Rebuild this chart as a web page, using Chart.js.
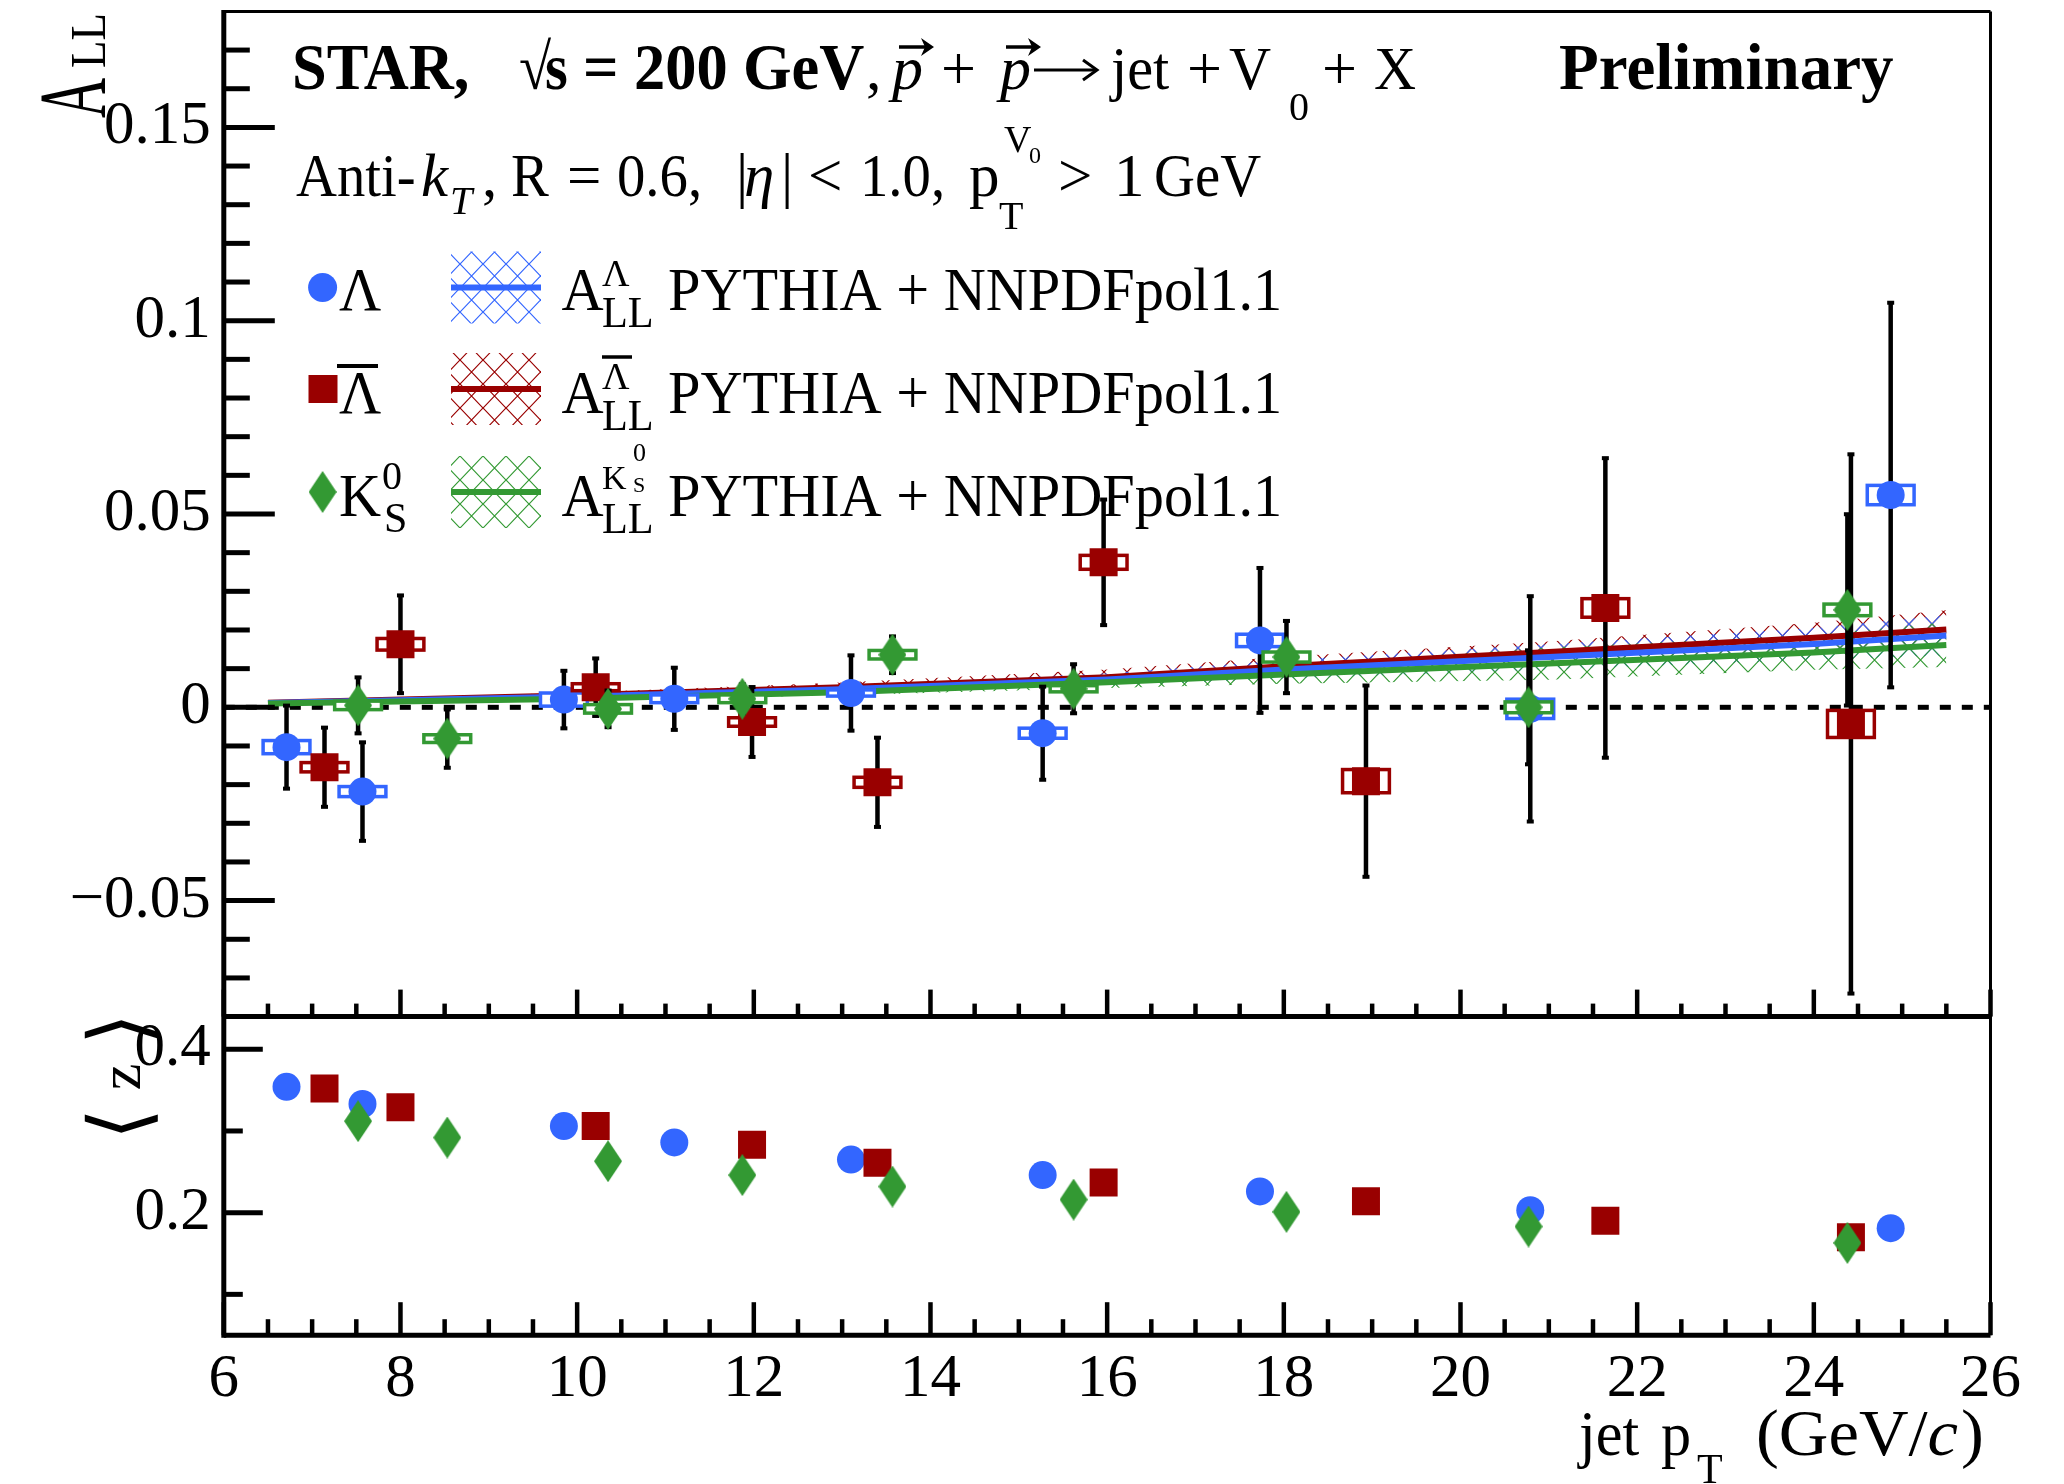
<!DOCTYPE html>
<html>
<head>
<meta charset="utf-8">
<script src="https://cdn.jsdelivr.net/npm/chart.js@4.4.1/dist/chart.umd.min.js"></script>
<style>
  html, body { margin: 0; padding: 0; background: #fff; }
  canvas { display: block; }
</style>
</head>
<body>
<canvas id="allChart" width="2064" height="1484" style="width:2064px;height:1484px"></canvas>
<script>
// --- measured points (jet pT in GeV/c) ---
const ptLambda = [6.71, 7.57, 9.85, 11.10, 13.10, 15.27, 17.73, 20.79, 24.87];
const allLambda = [-0.0103, -0.0218, 0.0020, 0.0022, 0.0037, -0.0067, 0.0173, -0.0004, 0.0549];
const statLambda = [0.0110, 0.0130, 0.0077, 0.0083, 0.0100, 0.0123, 0.0190, 0.0294, 0.0500];
const sysLambda = [0.0017, 0.0013, 0.0017, 0.0010, 0.0008, 0.0013, 0.0016, 0.0025, 0.0025];
const zLambda = [0.354, 0.333, 0.306, 0.286, 0.265, 0.246, 0.226, 0.203, 0.181];

const ptLambdaBar = [7.14, 8.00, 10.21, 11.98, 13.40, 15.96, 18.93, 21.64, 24.42];
const allLambdaBar = [-0.0155, 0.0163, 0.0052, -0.0038, -0.0194, 0.0375, -0.0191, 0.0257, -0.0043];
const statLambdaBar = [0.0105, 0.0129, 0.0077, 0.0093, 0.0118, 0.0165, 0.0250, 0.0390, 0.0700];
const sysLambdaBar = [0.0012, 0.0015, 0.0009, 0.0011, 0.0013, 0.0018, 0.0030, 0.0024, 0.0035];
const zLambdaBar = [0.352, 0.329, 0.306, 0.283, 0.261, 0.237, 0.214, 0.190, 0.170];

const ptK0s = [7.52, 8.53, 10.35, 11.87, 13.57, 15.62, 18.03, 20.77, 24.38];
const allK0s = [0.0005, -0.0081, -0.0004, 0.0022, 0.0136, 0.0048, 0.0130, 0.0000, 0.0252];
const statK0s = [0.0075, 0.0078, 0.0050, 0.0040, 0.0050, 0.0066, 0.0096, 0.0150, 0.0250];
const sysK0s = [0.0011, 0.0010, 0.0011, 0.0010, 0.0011, 0.0008, 0.0013, 0.0014, 0.0015];
const zK0s = [0.312, 0.292, 0.263, 0.246, 0.232, 0.216, 0.201, 0.183, 0.163];

const sysHalfWidth = 0.265;

// --- PYTHIA + NNPDFpol1.1 expectations ---
const theoryPt = [6.5, 10, 13, 16, 18, 21, 24, 25.5];
const thLambda = [0.0011, 0.0028, 0.0047, 0.0072, 0.0098, 0.0130, 0.0164, 0.0186];
const thLambdaHi = [0.0013, 0.0034, 0.0057, 0.0088, 0.0122, 0.0163, 0.0205, 0.0238];
const thLambdaLo = [0.0009, 0.0022, 0.0037, 0.0056, 0.0074, 0.0097, 0.0123, 0.0134];
const thLambdaBar = [0.0012, 0.0031, 0.0052, 0.0078, 0.0106, 0.0143, 0.0180, 0.0201];
const thLambdaBarHi = [0.0014, 0.0038, 0.0064, 0.0098, 0.0131, 0.0170, 0.0219, 0.0251];
const thLambdaBarLo = [0.0010, 0.0024, 0.0040, 0.0058, 0.0081, 0.0116, 0.0141, 0.0151];
const thK0s = [0.0010, 0.0022, 0.0039, 0.0065, 0.0085, 0.0113, 0.0142, 0.0161];
const thK0sHi = [0.0011, 0.0026, 0.0047, 0.0080, 0.0109, 0.0155, 0.0187, 0.0220];
const thK0sLo = [0.0009, 0.0018, 0.0031, 0.0050, 0.0061, 0.0071, 0.0097, 0.0104];

// --- axes ---
const xTicks = [6, 8, 10, 12, 14, 16, 18, 20, 22, 24, 26];
const allTicks = [-0.05, 0, 0.05, 0.1, 0.15];
const allTickLabels = ["\u22120.05", "0", "0.05", "0.1", "0.15"];
const zTicks = [0.2, 0.4];
const zTickLabels = ["0.2", "0.4"];

const SERIF = '"Liberation Serif", "Times New Roman", serif';
const BLUE = "#3366ff";
const RED = "#990000";
const GREEN = "#339933";

const canvas = document.getElementById("allChart");
const ctx = canvas.getContext("2d");

// cross hatch used for the theory bands
function hatch(color) {
  const t = document.createElement("canvas");
  t.width = 23;
  t.height = 24;
  const g = t.getContext("2d");
  g.strokeStyle = color;
  g.lineWidth = 1.2;
  g.beginPath();
  g.moveTo(0, 0); g.lineTo(23, 24);
  g.moveTo(23, 0); g.lineTo(0, 24);
  g.stroke();
  return ctx.createPattern(t, "repeat");
}

// tall thin diamond for K0s
function diamond(color) {
  const c = document.createElement("canvas");
  c.width = 28;
  c.height = 42;
  const g = c.getContext("2d");
  g.fillStyle = color;
  g.beginPath();
  g.moveTo(14, 0); g.lineTo(28, 21); g.lineTo(14, 42); g.lineTo(0, 21);
  g.closePath();
  g.fill();
  return c;
}
const diamondGreen = diamond(GREEN);

const hatchBlue = hatch(BLUE);
const hatchRed = hatch(RED);
const hatchGreen = hatch(GREEN);

function pts(xs, ys) {
  return xs.map((x, i) => ({ x: x, y: ys[i] }));
}

function markers(label, xs, ys, axis, style, color, radius, extra) {
  return Object.assign({
    label: label,
    type: "scatter",
    data: pts(xs, ys),
    yAxisID: axis,
    pointStyle: style,
    pointRadius: radius,
    pointHoverRadius: radius,
    backgroundColor: color,
    borderWidth: 0,
    showLine: false,
  }, extra || {});
}

function curve(label, ys, color, width, extra) {
  return Object.assign({
    label: label,
    type: "line",
    data: pts(theoryPt, ys),
    yAxisID: "yUp",
    borderColor: color,
    borderWidth: width,
    pointRadius: 0,
    fill: false,
    tension: 0,
  }, extra || {});
}

// drawing order is reversed: last dataset is painted first
const datasets = [
  markers("zK0s", ptK0s, zK0s, "yLow", diamondGreen, GREEN, 14),
  markers("zLambdaBar", ptLambdaBar, zLambdaBar, "yLow", "rect", RED, 19.8),
  markers("zLambda", ptLambda, zLambda, "yLow", "circle", BLUE, 14),
  markers("K0s", ptK0s, allK0s, "yUp", diamondGreen, GREEN, 14, { statErr: statK0s, sysErr: sysK0s }),
  markers("LambdaBar", ptLambdaBar, allLambdaBar, "yUp", "rect", RED, 19.8, { statErr: statLambdaBar, sysErr: sysLambdaBar }),
  markers("Lambda", ptLambda, allLambda, "yUp", "circle", BLUE, 14, { statErr: statLambda, sysErr: sysLambda }),
  curve("thK0s", thK0s, GREEN, 6),
  curve("thLambda", thLambda, BLUE, 6),
  curve("thLambdaBar", thLambdaBar, RED, 6),
  curve("thK0sHi", thK0sHi, "rgba(0,0,0,0)", 0, { fill: "+1", backgroundColor: hatchGreen }),
  curve("thK0sLo", thK0sLo, "rgba(0,0,0,0)", 0),
  curve("thLambdaHi", thLambdaHi, "rgba(0,0,0,0)", 0, { fill: "+1", backgroundColor: hatchBlue }),
  curve("thLambdaLo", thLambdaLo, "rgba(0,0,0,0)", 0),
  curve("thLambdaBarHi", thLambdaBarHi, "rgba(0,0,0,0)", 0, { fill: "+1", backgroundColor: hatchRed }),
  curve("thLambdaBarLo", thLambdaBarLo, "rgba(0,0,0,0)", 0),
];

function txt(c, s, x, y, size, o) {
  o = o || {};
  c.save();
  c.font = (o.style || "") + " " + (o.weight || "") + " " + size + "px " + SERIF;
  c.fillStyle = "#000";
  c.textBaseline = o.baseline || "alphabetic";
  c.textAlign = o.align || "left";
  c.translate(x, y);
  if (o.rot) c.rotate(o.rot);
  c.scale(o.sx || 1, 1);
  c.fillText(s, 0, 0);
  const w = c.measureText(s).width * (o.sx || 1);
  c.restore();
  return x + w;
}

function seg(c, x1, y1, x2, y2, w) {
  c.lineWidth = w;
  c.beginPath();
  c.moveTo(x1, y1);
  c.lineTo(x2, y2);
  c.stroke();
}

// bold vector arrow over p
function vecArrow(c, x1, x2, y) {
  seg(c, x1, y, x2 - 4, y, 3.5);
  c.beginPath();
  c.moveTo(x2 - 12, y - 9);
  c.lineTo(x2 + 1, y);
  c.lineTo(x2 - 12, y + 9);
  c.lineTo(x2 - 8, y);
  c.closePath();
  c.fill();
}

// thin reaction arrow
function longArrow(c, x1, x2, y) {
  seg(c, x1, y, x2, y, 3);
  c.beginPath();
  c.lineWidth = 3;
  c.moveTo(x2 - 14, y - 10);
  c.lineTo(x2, y);
  c.lineTo(x2 - 14, y + 10);
  c.stroke();
}

const rootStyle = {
  id: "rootStyle",
  beforeDatasetsDraw(chart) {
    const c = chart.ctx;
    const xs = chart.scales.x;
    const y0 = chart.scales.yUp.getPixelForValue(0);
    c.save();
    c.strokeStyle = "#000";
    c.setLineDash([11, 11]);
    seg(c, xs.left, y0, xs.right, y0, 5);
    c.restore();
  },
  beforeDatasetDraw(chart, args) {
    const ds = chart.data.datasets[args.index];
    if (!ds.statErr) return;
    const c = chart.ctx;
    const xs = chart.scales.x;
    const ys = chart.scales.yUp;
    c.save();
    c.strokeStyle = "#000";
    c.fillStyle = "#000";
    ds.data.forEach((p, i) => {
      const px = xs.getPixelForValue(p.x);
      const top = ys.getPixelForValue(p.y + ds.statErr[i]);
      const bot = ys.getPixelForValue(p.y - ds.statErr[i]);
      seg(c, px, top, px, bot, 4.5);
      c.fillRect(px - 3.5, top - 1, 7, 4);
      c.fillRect(px - 3.5, bot - 3, 7, 4);
    });
    c.strokeStyle = ds.backgroundColor;
    c.lineWidth = 3.5;
    ds.data.forEach((p, i) => {
      const l = xs.getPixelForValue(p.x - sysHalfWidth);
      const r = xs.getPixelForValue(p.x + sysHalfWidth);
      const t = ys.getPixelForValue(p.y + ds.sysErr[i]);
      const b = ys.getPixelForValue(p.y - ds.sysErr[i]);
      c.fillStyle = "#fff";
      c.fillRect(l, t, r - l, b - t);
      c.strokeRect(l, t, r - l, b - t);
    });
    c.restore();
  },
  afterDraw(chart) {
    const c = chart.ctx;
    const xs = chart.scales.x;
    const yU = chart.scales.yUp;
    const yL = chart.scales.yLow;
    const L = xs.left, R = xs.right, T = yU.top, M = yU.bottom, B = yL.bottom;
    c.save();
    c.strokeStyle = "#000";
    c.fillStyle = "#000";

    // frame
    seg(c, L, T, R, T, 3);
    seg(c, R, T, R, B, 3);
    seg(c, L, T - 1.5, L, B + 2.5, 5);
    seg(c, L, M, R, M, 5);
    seg(c, L, B, R, B, 5);

    // y ticks, upper pad
    for (let k = -7; k <= 17; k++) {
      const v = k / 100;
      const major = k % 5 === 0;
      const py = yU.getPixelForValue(v);
      seg(c, L, py, L + (major ? 51 : 26), py, 5);
    }
    // y ticks, lower pad
    for (let k = 1; k <= 4; k++) {
      const py = yL.getPixelForValue(k / 10);
      seg(c, L, py, L + (k % 2 === 0 ? 39 : 19), py, 5);
    }
    // x ticks on both pads
    for (let k = 0; k <= 40; k++) {
      const v = 6 + k * 0.5;
      const px = xs.getPixelForValue(v);
      const major = k % 4 === 0;
      seg(c, px, M, px, M - (major ? 27 : 13), 4.5);
      seg(c, px, B, px, B - (major ? 33 : 16), 4.5);
    }

    // header line 1
    txt(c, "STAR,", 292, 89, 65, { weight: "bold", sx: 0.96 });
    txt(c, "\u221A", 519, 89, 65, { weight: "bold", sx: 0.9 });
    txt(c, "s", 545, 89, 65, { weight: "bold", sx: 0.9 });
    txt(c, "=", 583, 89, 65, { weight: "bold", sx: 0.96 });
    txt(c, "200", 634, 89, 65, { weight: "bold", sx: 0.96 });
    txt(c, "GeV", 743, 89, 65, { weight: "bold", sx: 0.96 });
    txt(c, ",", 866, 89, 62);
    txt(c, "p", 892, 89, 62, { style: "italic" });
    vecArrow(c, 899, 933, 47);
    txt(c, "+", 941, 89, 62);
    txt(c, "p", 1000, 89, 62, { style: "italic" });
    vecArrow(c, 1006, 1040, 47);
    longArrow(c, 1034, 1097, 70);
    txt(c, "jet", 1111, 89, 62, { sx: 0.94 });
    txt(c, "+", 1187, 89, 62);
    txt(c, "V", 1229, 89, 62, { sx: 0.94 });
    txt(c, "0", 1289, 120, 40);
    txt(c, "+", 1322, 89, 62);
    txt(c, "X", 1374, 89, 62, { sx: 0.94 });
    txt(c, "Preliminary", 1559, 89, 65, { weight: "bold" });

    // header line 2
    const b2 = 196;
    txt(c, "Anti-", 296, b2, 61, { sx: 0.93 });
    txt(c, "k", 421, b2, 61, { style: "italic" });
    txt(c, "T", 450, b2 + 18, 40, { style: "italic" });
    txt(c, ",", 482, b2, 61);
    txt(c, "R", 511, b2, 61, { sx: 0.93 });
    txt(c, "=", 567, b2, 61);
    txt(c, "0.6,", 617, b2, 61, { sx: 0.93 });
    txt(c, "|", 736, b2, 61);
    txt(c, "\u03B7", 744, b2, 61, { style: "italic" });
    txt(c, "|", 781, b2, 61);
    txt(c, "<", 808, b2, 61);
    txt(c, "1.0,", 860, b2, 61, { sx: 0.93 });
    txt(c, "p", 969, b2, 61);
    txt(c, "T", 999, b2 + 33, 40);
    txt(c, "V", 1004, b2 - 44, 38);
    txt(c, "0", 1029, b2 - 33, 24);
    txt(c, ">", 1058, b2, 61);
    txt(c, "1", 1114, b2, 61);
    txt(c, "GeV", 1154, b2, 61, { sx: 0.93 });

    // legend
    const rows = [287.5, 389, 492];
    const base = [310, 412.5, 516];
    c.fillStyle = BLUE;
    c.beginPath();
    c.arc(322.6, rows[0], 14.5, 0, Math.PI * 2);
    c.fill();
    c.fillStyle = RED;
    c.fillRect(308.5, rows[1] - 14, 29, 28);
    c.drawImage(diamondGreen, 322.6 - 14, rows[2] - 21);
    const fills = [hatchBlue, hatchRed, hatchGreen];
    const lines = [BLUE, RED, GREEN];
    rows.forEach((cy, i) => {
      c.fillStyle = fills[i];
      c.fillRect(451, cy - 36, 90, 72);
      c.strokeStyle = lines[i];
      seg(c, 451, cy, 541, cy, 6);
    });
    c.strokeStyle = "#000";
    c.fillStyle = "#000";
    txt(c, "\u039B", 339, base[0], 62, { sx: 0.94 });
    txt(c, "\u039B", 339, base[1], 62, { sx: 0.94 });
    seg(c, 337, 366, 378, 366, 4);
    txt(c, "K", 339, base[2], 62, { sx: 0.94 });
    txt(c, "0", 382, 489, 40);
    txt(c, "S", 384, 532, 42);
    base.forEach((by, i) => {
      txt(c, "A", 561.5, by, 62, { sx: 0.94 });
      txt(c, "LL", 602, by + 17, 45, { sx: 0.94 });
      txt(c, "PYTHIA + NNPDFpol1.1", 668, by, 62, { sx: 0.94 });
    });
    txt(c, "\u039B", 602, 286, 38);
    txt(c, "\u039B", 602, 389, 38);
    seg(c, 602, 357, 632, 357, 3.5);
    txt(c, "K", 602, 489, 34);
    txt(c, "0", 633, 461, 26);
    txt(c, "S", 633, 492, 22);

    // axis titles
    txt(c, "A", 105, 118, 96, { rot: -Math.PI / 2, sx: 0.58 });
    txt(c, "LL", 105, 68, 50, { rot: -Math.PI / 2, sx: 0.9 });
    txt(c, "\u27E8", 147, 1124, 82, { rot: -Math.PI / 2, align: "center" });
    txt(c, "z", 140, 1077, 60, { rot: -Math.PI / 2, align: "center" });
    txt(c, "\u27E9", 147, 1029, 82, { rot: -Math.PI / 2, align: "center" });

    txt(c, "jet", 1579, 1455, 64, { sx: 0.94 });
    txt(c, "p", 1661, 1455, 64, { sx: 0.94 });
    txt(c, "T", 1697, 1483, 42);
    let xt = txt(c, "(GeV/", 1756, 1455, 66, { sx: 1.04 });
    xt = txt(c, "c", xt, 1455, 66, { style: "italic", sx: 1.04 });
    txt(c, ")", xt + 3, 1455, 66, { sx: 1.04 });
    c.restore();
  },
};

function fixWidth(scale) {
  scale.width = 200;
  scale.paddingTop = 0;
  scale.paddingBottom = 0;
}

const tickFont = { family: SERIF, size: 61 };

new Chart(ctx, {
  type: "scatter",
  data: { datasets: datasets },
  options: {
    responsive: false,
    animation: false,
    devicePixelRatio: 1,
    events: [],
    layout: { autoPadding: false, padding: { left: 23.8, right: 73.5, top: 11.4, bottom: 58.8 } },
    plugins: { legend: { display: false }, tooltip: { enabled: false } },
    scales: {
      x: {
        type: "linear",
        min: 6,
        max: 26,
        grid: { display: false, drawTicks: false },
        border: { display: false },
        afterBuildTicks: (scale) => { scale.ticks = xTicks.map((v) => ({ value: v })); },
        afterFit: (scale) => { scale.height = 90; scale.paddingLeft = 0; scale.paddingRight = 0; },
        ticks: { font: tickFont, color: "#000", padding: 8, autoSkip: false, maxRotation: 0,
                 callback: (v, i) => String(xTicks[i]) },
      },
      yLow: {
        type: "linear",
        position: "left",
        stack: "pads",
        stackWeight: 318.6,
        min: 0.05,
        max: 0.44,
        grid: { display: false, drawTicks: false },
        border: { display: false },
        afterBuildTicks: (scale) => { scale.ticks = zTicks.map((v) => ({ value: v })); },
        afterFit: fixWidth,
        ticks: { font: tickFont, color: "#000", padding: 13, autoSkip: false,
                 callback: (v, i) => zTickLabels[i] },
      },
      yUp: {
        type: "linear",
        position: "left",
        stack: "pads",
        stackWeight: 1005.2,
        min: -0.08,
        max: 0.18,
        grid: { display: false, drawTicks: false },
        border: { display: false },
        afterBuildTicks: (scale) => { scale.ticks = allTicks.map((v) => ({ value: v })); },
        afterFit: fixWidth,
        ticks: { font: tickFont, color: "#000", padding: 13, autoSkip: false,
                 callback: (v, i) => allTickLabels[i] },
      },
    },
  },
  plugins: [rootStyle],
});
</script>
</body>
</html>
